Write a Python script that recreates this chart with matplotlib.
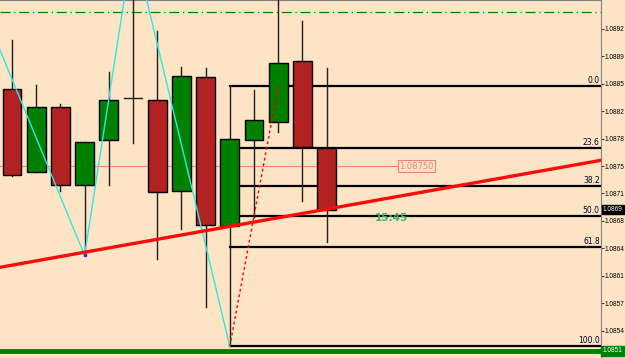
import numpy as np
import matplotlib
matplotlib.use("Agg")
import matplotlib.pyplot as plt
import matplotlib.transforms as mtransforms
from matplotlib import font_manager

# candles (index 0..13), prices
opens = [1.08848, 1.08742, 1.08825, 1.08726, 1.08783, 1.08837, 1.08834,
         1.08718, 1.08864, 1.08673, 1.08783, 1.08806, 1.08884, 1.08773]
highs = [1.08911, 1.08853, 1.08829, 1.08781, 1.08870, 1.09035, 1.08922,
         1.08876, 1.08875, 1.08852, 1.08847, 1.08975, 1.08935, 1.08875]
lows = [1.08737, 1.08742, 1.08718, 1.08636, 1.08726, 1.08779, 1.08632,
        1.08670, 1.08570, 1.08520, 1.08685, 1.08793, 1.08705, 1.08653]
closes = [1.08739, 1.08825, 1.08726, 1.08781, 1.08834, 1.08835, 1.08717,
          1.08865, 1.08675, 1.08784, 1.08809, 1.08882, 1.08774, 1.08694]

# zigzag swing points
zz_x = [-1, 3, 5, 9]
zz_y = [1.08936, 1.08636, 1.09035, 1.08520]

# trend line anchors
trend_x = [3, 13]
trend_y = [1.08640, 1.08695]

# fibonacci anchors and levels
fib_x = [9, 11]
fib_y = [1.08520, 1.08852]
fib_levels = [0.0, 23.6, 38.2, 50.0, 61.8, 100.0]

hline_price = 1.08750
dashdot_price = 1.08947
green_line_price = 1.08514
bid_price = 1.08694

yticks = [1.08925, 1.08890, 1.08855, 1.08820, 1.08785, 1.08750,
          1.08715, 1.08680, 1.08645, 1.08610, 1.08575, 1.08540]

bg = '#fde4c4'
red = '#b22222'
green = '#008000'

# narrow font for the price scale, so the labels fit in the strip
names = set(f.name for f in font_manager.fontManager.ttflist)
if 'Liberation Sans Narrow' in names:
    axfont, axsize = 'Liberation Sans Narrow', 5.6
else:
    axfont, axsize = 'Liberation Sans', 4.7

fig = plt.figure(figsize=(6.25, 3.58), dpi=100, facecolor=bg)
ax = fig.add_axes([0, 0, 601 / 625, 1])
ax.set_facecolor(bg)

xmin, xmax = -0.496, 24.34
ax.set_xlim(xmin, xmax)
ax.set_ylim(1.08505, 1.08962)

# horizontal objects
ax.axhline(dashdot_price, color=green, lw=0.9, ls=(0, (8, 3, 1, 3)))
ax.axhline(green_line_price, color=green, lw=3.5, zorder=1)
ax.plot([xmin, 15.9], [hline_price, hline_price], color='#f08080', lw=0.8)
ax.text(16.0, hline_price, '%.5f' % hline_price, color='#f08080', fontsize=6,
        va='center', ha='left',
        bbox=dict(boxstyle='square,pad=0.15', fc=bg, ec='#f08080', lw=0.8))

# candles
w = 0.78
for i in range(len(opens)):
    o, h, l, c = opens[i], highs[i], lows[i], closes[i]
    ax.plot([i, i], [l, h], color='#202020', lw=1, zorder=3)
    if abs(c - o) < 0.00003:
        ax.plot([i - w / 2, i + w / 2], [o, o], color='#202020', lw=1, zorder=3)
        continue
    col = green if c > o else red
    ax.bar(i, abs(c - o), bottom=min(o, c), width=w, color=col,
           edgecolor='black', linewidth=1, zorder=4)

# zigzag
ax.plot(zz_x, zz_y, color='#2ee8e8', lw=1, zorder=5)
ax.plot([zz_x[1]], [zz_y[1]], marker='s', ms=2, color='#2030ff', zorder=6)

# trend line extended over whole chart
slope = (trend_y[1] - trend_y[0]) / (trend_x[1] - trend_x[0])
tx = np.array([xmin, xmax])
ax.plot(tx, trend_y[0] + slope * (tx - trend_x[0]), color='#ff0a0a', lw=2.4, zorder=6)

# fibonacci retracement
ax.plot(fib_x, fib_y, color='red', lw=1, ls=(0, (2, 2)), zorder=6)
rng = fib_y[1] - fib_y[0]
for lv in fib_levels:
    p = fib_y[1] - rng * lv / 100
    ax.plot([fib_x[0], xmax], [p, p], color='black', lw=1.6, zorder=2)
    ax.text(xmax - 0.05, p + 0.00001, '%.1f' % lv, fontsize=5.5, color='#000030',
            ha='right', va='bottom', zorder=7)

ax.text(15.0, 1.08684, '15:45', color='#3cb371', fontsize=7.5, fontweight='bold',
        ha='left', va='center', zorder=7)

# axis
for s in ['left', 'bottom']:
    ax.spines[s].set_visible(False)
ax.spines['right'].set_color('#808080')
ax.spines['top'].set_color('#808080')
ax.set_xticks([])
ax.yaxis.tick_right()
ax.set_yticks(yticks)
# labels cut to what fits beside the chart
ax.set_yticklabels([('%.5f' % t)[:6] for t in yticks], family=axfont)
ax.tick_params(axis='y', length=2, width=0.8, color='#404040', labelsize=axsize,
               pad=0.5, labelcolor='black')

trans = mtransforms.blended_transform_factory(ax.transAxes, ax.transData)
ax.text(1.003, bid_price, ('%.5f' % bid_price)[:6], transform=trans,
        color='white', fontsize=axsize, family=axfont, va='center', ha='left',
        clip_on=False, zorder=8,
        bbox=dict(boxstyle='square,pad=0.15', fc='black', ec='black'))
ax.text(1.003, green_line_price, ('%.5f' % green_line_price)[:6],
        transform=trans, color='white', fontsize=axsize, family=axfont,
        va='center', ha='left', clip_on=False, zorder=8,
        bbox=dict(boxstyle='square,pad=0.2', fc=green, ec=green))

fig.savefig('out.png', dpi=100, facecolor=bg)
